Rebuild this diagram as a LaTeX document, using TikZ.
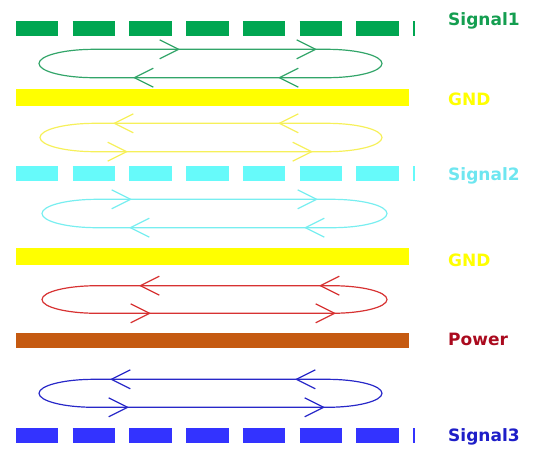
\documentclass[tikz,border=0pt]{standalone}
\usepackage{fontspec}
\setmainfont{DejaVu Sans}
\usetikzlibrary{arrows.meta}

\definecolor{sigone}{RGB}{0,166,81}
\definecolor{sigonetxt}{RGB}{20,158,80}
\definecolor{loopgreen}{RGB}{50,165,105}
\definecolor{gndyellow}{RGB}{255,255,0}
\definecolor{loopyellow}{RGB}{246,240,90}
\definecolor{sigtwo}{RGB}{102,250,250}
\definecolor{sigtwotxt}{RGB}{110,230,240}
\definecolor{loopcyan}{RGB}{120,238,240}
\definecolor{loopred}{RGB}{215,50,50}
\definecolor{powerbar}{RGB}{197,90,17}
\definecolor{powertxt}{RGB}{170,10,30}
\definecolor{sigthree}{RGB}{51,51,255}
\definecolor{sigthreetxt}{RGB}{30,30,200}
\definecolor{loopblue}{RGB}{40,40,200}

% return path: colour, left x, right x, top y, bottom y
\newcommand{\returnloop}[5]{%
  \draw[loopline,#1] ({#2+55},#4) -- ({#3-55},#4)
    arc[start angle=-90,end angle=90,x radius=55,y radius={(#5-#4)/2}]
    -- ({#2+55},#5)
    arc[start angle=90,end angle=270,x radius=55,y radius={(#5-#4)/2}]
    -- cycle;}
% arrow marks on the loop
\newcommand{\tipright}[3]{\draw[tip,#1] ({#2-20},#3) -- (#2,#3);}
\newcommand{\tipleft}[3]{\draw[tip,#1] ({#2+20},#3) -- (#2,#3);}

\begin{document}
\begin{tikzpicture}[x=1pt,y=-1pt,
    sigbar/.style={line width=15pt,dash pattern=on 42.4pt off 14.3pt},
    planebar/.style={line width=16.5pt},
    loopline/.style={line width=1.2pt},
    tip/.style={line width=1.2pt,-{Straight Barb[length=19pt,width=19pt]}},
    lbl/.style={anchor=base west,inner sep=0pt,font=\fontsize{17}{18}\selectfont\bfseries}]
    \useasboundingbox (0,0) rectangle (544,459);

    % Layer stack
    \draw[sigbar,sigone] (16,28.8) -- (415,28.8);
    \draw[planebar,gndyellow] (16,97.7) -- (409,97.7);
    \draw[sigbar,sigtwo] (16,173.8) -- (415,173.8);
    \draw[planebar,gndyellow] (16,256.3) -- (409,256.3);
    \draw[line width=15pt,powerbar] (16,340) -- (409,340);
    \draw[sigbar,sigthree] (16,435.8) -- (415,435.8);

    % Labels
    \node[lbl,sigonetxt] (sig1) at (448,25) {Signal1};
    \node[lbl,gndyellow] (gnd1) at (448,105) {GND};
    \node[lbl,sigtwotxt] (sig2) at (448,180) {Signal2};
    \node[lbl,gndyellow] (gnd2) at (448,266) {GND};
    \node[lbl,powertxt] (pwr) at (448,345.7) {Power};
    \node[lbl,sigthreetxt] (sig3) at (448,441.7) {Signal3};

    % Signal1 / GND loop
    \returnloop{loopgreen}{39}{382}{49.3}{77.7}
    \tipright{loopgreen}{180}{49.3} \tipright{loopgreen}{317}{49.3}
    \tipleft{loopgreen}{133}{77.7} \tipleft{loopgreen}{278}{77.7}

    % GND / Signal2 loop
    \returnloop{loopyellow}{40}{382}{123.3}{151.7}
    \tipleft{loopyellow}{113}{123.3} \tipleft{loopyellow}{278}{123.3}
    \tipright{loopyellow}{128}{151.7} \tipright{loopyellow}{313}{151.7}

    % Signal2 / GND loop
    \returnloop{loopcyan}{42}{387}{199.3}{227.7}
    \tipright{loopcyan}{132}{199.3} \tipright{loopcyan}{318}{199.3}
    \tipleft{loopcyan}{129}{227.7} \tipleft{loopcyan}{304}{227.7}

    % GND / Power loop
    \returnloop{loopred}{42}{387}{285.7}{313.3}
    \tipleft{loopred}{139}{285.7} \tipleft{loopred}{319}{285.7}
    \tipright{loopred}{151}{313.3} \tipright{loopred}{336}{313.3}

    % Power / Signal3 loop
    \returnloop{loopblue}{39}{382}{379.3}{407.3}
    \tipleft{loopblue}{110}{379.3} \tipleft{loopblue}{295}{379.3}
    \tipright{loopblue}{129}{407.3} \tipright{loopblue}{325}{407.3}
\end{tikzpicture}
\end{document}
